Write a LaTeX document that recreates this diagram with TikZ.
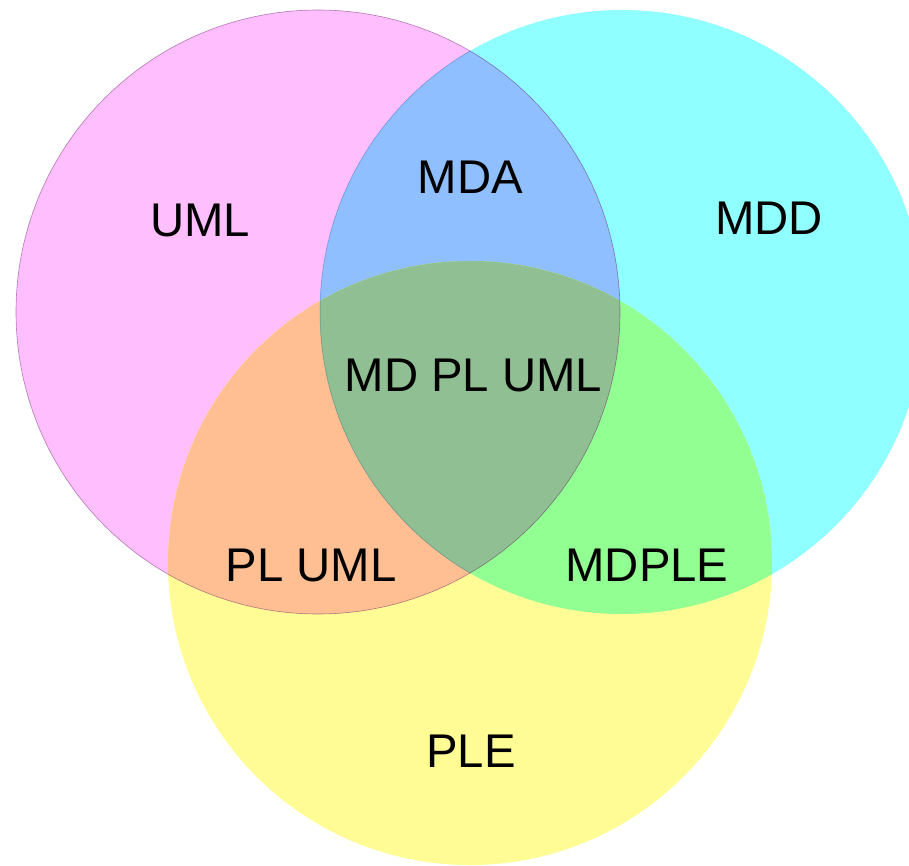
\documentclass[tikz,border=0pt]{standalone}
\usepackage{fontspec}
\setmainfont{Liberation Sans}
\definecolor{umlc}{RGB}{255,191,255}
\definecolor{mddc}{RGB}{143,255,255}
\definecolor{plec}{RGB}{255,252,150}
\definecolor{umlmdd}{RGB}{143,191,255}
\definecolor{mddple}{RGB}{146,255,146}
\definecolor{umlple}{RGB}{255,191,146}
\definecolor{allthree}{RGB}{143,191,146}
\tikzset{
  setlabel/.style={anchor=base, inner sep=0pt, font=\fontsize{47.3}{54}\selectfont, text=black},
}
\begin{document}
\begin{tikzpicture}[x=1pt,y=-1pt]
  \useasboundingbox (0,0) rectangle (909,866);
  % circle centres and radius
  \def\rad{302}
  \coordinate (cu) at (318,312);
  \coordinate (cm) at (622,312);
  \coordinate (cp) at (470,563);
  % plain sets
  \fill[umlc] (cu) circle (\rad);
  \fill[mddc] (cm) circle (\rad);
  \fill[plec] (cp) circle (\rad);
  % pairwise overlaps
  \begin{scope}
    \clip (cu) circle (\rad);
    \fill[umlmdd] (cm) circle (\rad);
    \fill[umlple] (cp) circle (\rad);
  \end{scope}
  \begin{scope}
    \clip (cm) circle (\rad);
    \fill[mddple] (cp) circle (\rad);
  \end{scope}
  % triple overlap
  \begin{scope}
    \clip (cu) circle (\rad);
    \clip (cm) circle (\rad);
    \fill[allthree] (cp) circle (\rad);
  \end{scope}
  % thin rims
  \draw[violet!70!black, opacity=0.45, line width=0.6pt] (cu) circle (\rad);
  \begin{scope}
    \clip (cu) circle (\rad);
    \draw[blue!50!black, opacity=0.3, line width=0.5pt] (cm) circle (\rad);
  \end{scope}
  % labels
  \node[setlabel] (luml) at (200,237) {UML};
  \node[setlabel] (lmda) at (470.5,194) {MDA};
  \node[setlabel] (lmdd) at (769,235) {MDD};
  \node[setlabel] (lall) at (473.5,391) {MD PL UML};
  \node[setlabel] (lpluml) at (311,581) {PL UML};
  \node[setlabel] (lmdple) at (647,581) {MDPLE};
  \node[setlabel] (lple) at (471,767) {PLE};
\end{tikzpicture}
\end{document}
